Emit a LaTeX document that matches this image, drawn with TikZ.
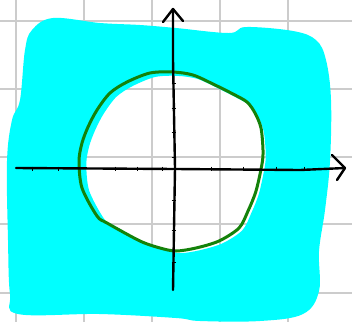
\documentclass[tikz,border=0pt]{standalone}
\definecolor{aqua}{RGB}{0,255,255}
\definecolor{gridgray}{RGB}{204,204,204}
\definecolor{curvegreen}{RGB}{20,130,10}
\begin{document}
\begin{tikzpicture}[x=1pt,y=-1pt,
  gridline/.style={draw=gridgray,line width=2pt},
  axisline/.style={draw=black,line width=2.4pt,line cap=round,line join=round},
  ticklines/.style={draw=black,line width=0.8pt},
  greencurve/.style={draw=curvegreen,line width=3pt}]
\useasboundingbox (0,0) rectangle (352,322);
\fill[white] (0,0) rectangle (352,322);
% grid
\foreach \gx in {16,84,152,220,288} \draw[gridline] (\gx,0) -- (\gx,322);
\foreach \gy in {21,89,157,224,293} \draw[gridline] (0,\gy) -- (352,\gy);
% cyan region with hole
\fill[aqua,even odd rule]
  plot[smooth cycle,tension=0.6] coordinates {(53,18) (100,23) (140,25) (176,28) (229,33) (246,27) (293,31) (316,40) (326,60) (331,100) (330,161) (325,210) (319,251) (319,291) (303,314) (260,321) (200,321) (176,318) (100,314) (18,314) (10,294) (8,240) (7,161) (12,120) (20,100) (25,50) (32,30)}
  plot[smooth cycle,tension=0.5] coordinates {(177.9,75.9) (197.4,78.9) (217.0,87.8) (236.4,97.7) (250.1,105.6) (257.9,116.5) (263.7,131.3) (265.7,153.1) (264.7,167.0) (258.9,193.7) (251.1,213.5) (242.3,230.3) (222.8,243.2) (200.4,250.1) (180.9,253.1) (165.3,250.1) (145.8,243.2) (113.6,225.4) (103.8,218.4) (89.2,190.7) (86.3,164.0) (89.2,146.2) (95.1,130.3) (103.8,113.5) (116.5,96.7) (133.1,85.8) (155.5,76.9)};
% green circle
\draw[greencurve] plot[smooth cycle,tension=0.5] coordinates {(173,72) (193,75) (213,84) (233,94) (247,102) (255,113) (261,128) (263,150) (262,164) (256,191) (248,211) (239,228) (219,241) (196,248) (176,251) (160,248) (140,241) (107,223) (97,216) (82,188) (79,161) (82,143) (88,127) (97,110) (110,93) (127,82) (150,73)};
% axes
\coordinate (xl) at (16,168);
\coordinate (xm) at (176,169);
\coordinate (xr) at (345,168);
\coordinate (yb) at (173,290);
\coordinate (ym) at (175,168);
\coordinate (yt) at (173,9);
\draw[axisline] (xl) -- (xm) -- (300,170) -- (xr);
\draw[axisline] (332,155) -- (xr) -- (337,180);
\draw[axisline] (yb) -- (ym) -- (173,60) -- (yt);
\draw[axisline] (163,22) -- (yt) -- (183,21);
% ticks
\foreach \tx in {32,58,115,137,162,211,243,276,304} \draw[ticklines] (\tx,166.5) -- (\tx,170.5);
\foreach \ty in {83,108,132,157,200,230,262} \draw[ticklines] (171.5,\ty) -- (175.5,\ty);
\end{tikzpicture}
\end{document}
